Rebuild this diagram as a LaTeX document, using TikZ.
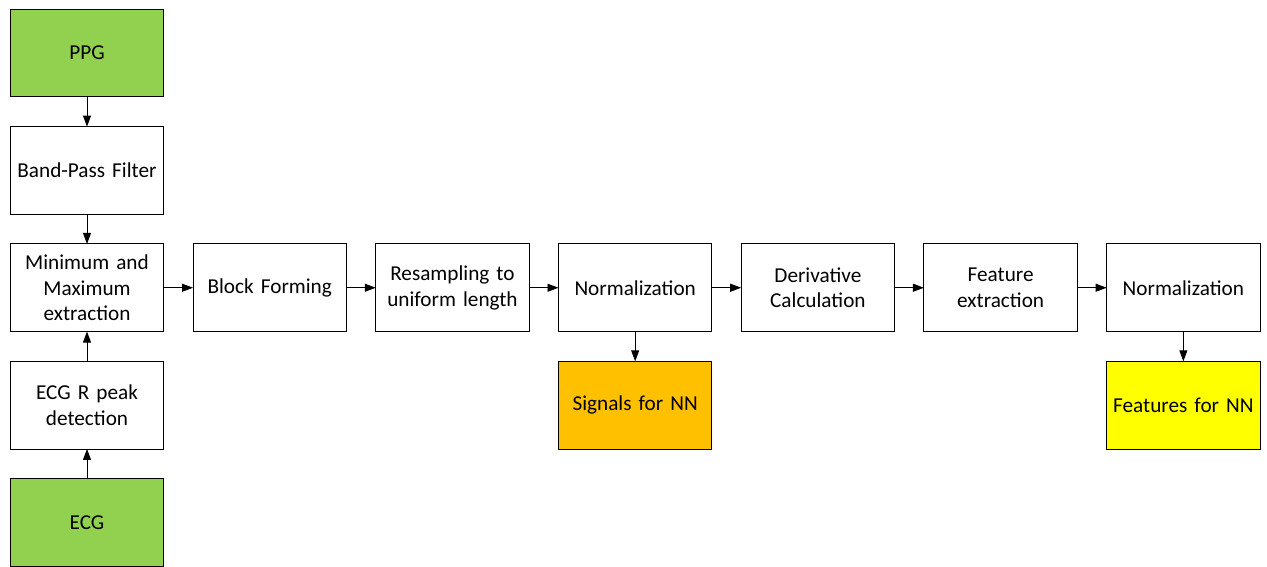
\documentclass[tikz,border=0pt]{standalone}
\usepackage{fontspec}
\setmainfont{Carlito}
\usetikzlibrary{positioning,arrows.meta}
\definecolor{sourcegreen}{HTML}{92D050}
\definecolor{nnorange}{HTML}{FFC000}
\definecolor{nnyellow}{HTML}{FFFF00}
\tikzset{
    proc-box/.style = {draw=black, fill=white, line width=0.9pt, rectangle, minimum width=154pt, minimum height=88pt, text width=150pt, align=center, font=\fontsize{21.3}{26}\selectfont, inner sep=0pt, outer sep=0pt},
    source-box/.style = {proc-box, fill=sourcegreen},
    flow/.style = {-{Triangle[length=11pt,width=8pt]}, line width=0.9pt},
}

\begin{document}
\begin{tikzpicture}[x=1bp,y=-1bp]
\useasboundingbox (0,0) rectangle (1267,567);
% left column
\node [source-box] (ppg) at (87,53) {PPG};
\node [proc-box, below=29.7bp of ppg] (bandpass) {Band-Pass Filter};
\node [proc-box, below=29.7bp of bandpass] (minmax) {Minimum and\\Maximum\\extraction};
\node [proc-box, below=29.7bp of minmax] (rpeak) {ECG R peak\\detection};
\node [source-box, below=29.7bp of rpeak] (ecg) {ECG};
% main chain
\node [proc-box, right=29.3bp of minmax] (blocks) {Block Forming};
\node [proc-box, right=29.3bp of blocks] (resample) {Resampling to\\uniform length};
\node [proc-box, right=29.3bp of resample] (norma) {Normalization};
\node [proc-box, right=29.3bp of norma] (deriv) {Derivative\\Calculation};
\node [proc-box, right=29.3bp of deriv] (featext) {Feature\\extraction};
\node [proc-box, right=29.3bp of featext] (normb) {Normalization};
% outputs
\node [proc-box, fill=nnorange, below=29.7bp of norma] (signals) {Signals for NN};
\node [proc-box, fill=nnyellow, below=29.7bp of normb] (features) {Features for NN};

\draw [flow] (ppg) -- (bandpass);
\draw [flow] (bandpass) -- (minmax);
\draw [flow] (ecg) -- (rpeak);
\draw [flow] (rpeak) -- (minmax);
\draw [flow] (minmax) -- (blocks);
\draw [flow] (blocks) -- (resample);
\draw [flow] (resample) -- (norma);
\draw [flow] (norma) -- (deriv);
\draw [flow] (deriv) -- (featext);
\draw [flow] (featext) -- (normb);
\draw [flow] (norma) -- (signals);
\draw [flow] (normb) -- (features);
\end{tikzpicture}
\end{document}
